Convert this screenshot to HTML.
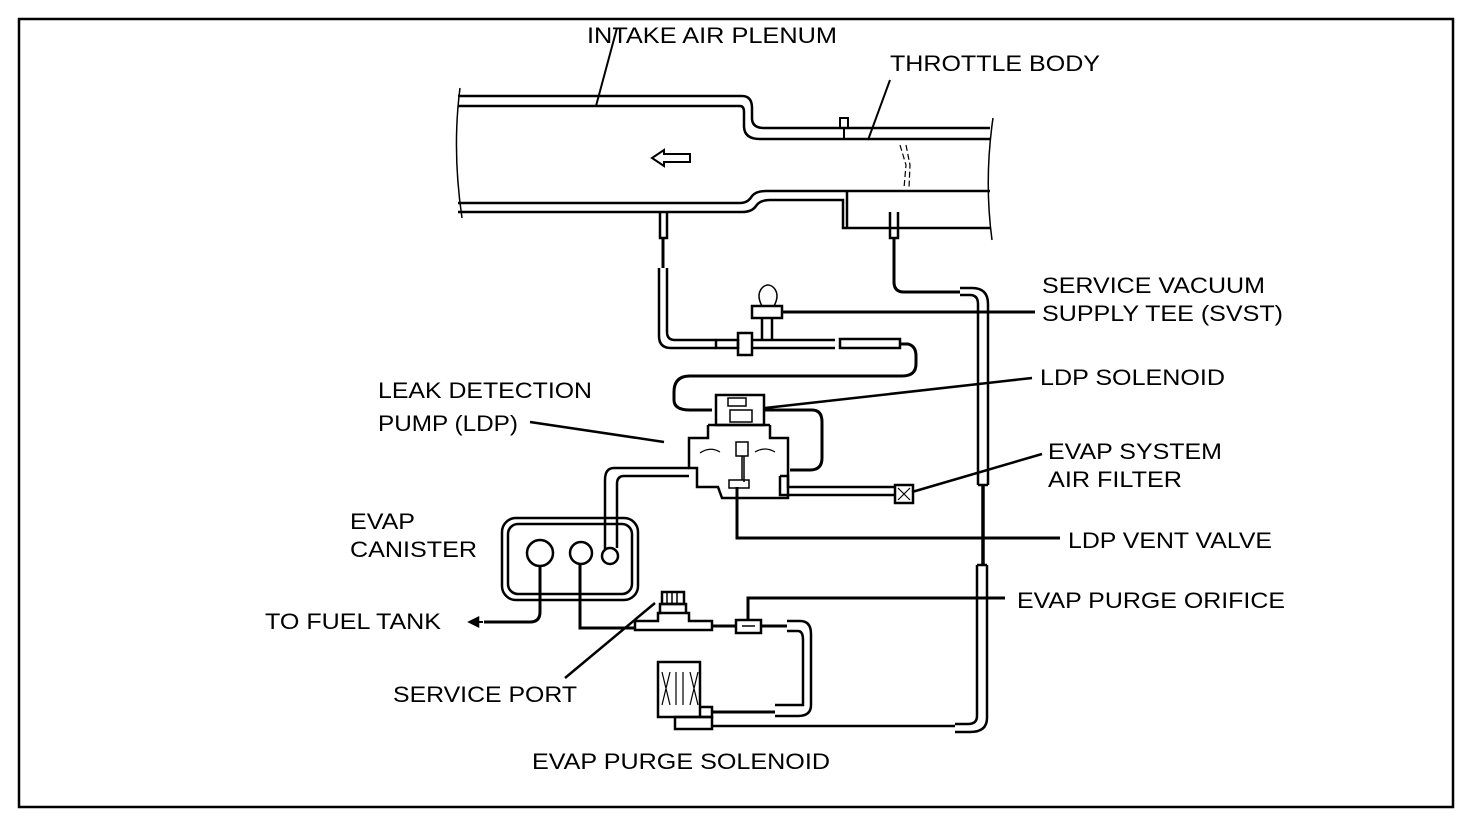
<!DOCTYPE html>
<html><head><meta charset="utf-8"><style>
html,body{margin:0;padding:0;background:#fff;}
svg{display:block;}
text{font-family:"Liberation Sans",Arial,sans-serif;font-size:22px;fill:#000;}
</style></head><body>
<svg width="1472" height="828" viewBox="0 0 1472 828" xmlns="http://www.w3.org/2000/svg">
<rect x="19" y="19" width="1434" height="788" fill="none" stroke="#000" stroke-width="2.5"/>
<g fill="none" stroke="#000" stroke-width="2.5">
<path d="M458 96 H742 Q752 96 752 108 V118 Q752 128 764 128 H990"/>
<path d="M458 106 H740 Q744 106 744 112 V126 Q744 139 760 139 H990"/>
<path d="M458 203 H740 Q748 203 752 196 Q756 191 766 191 H990"/>
<path d="M458 212 H742 Q752 212 756 206 Q760 200 770 200 H843 V228 H990"/>
<path d="M847 191 V228"/>
<path d="M460 88 Q452 150 462 218" stroke-width="1.5"/>
<path d="M993 118 Q984 180 992 240" stroke-width="1.5"/>
<path d="M840 128 V118 H848 V128 M844 128 V140" stroke-width="2"/>
<path d="M900 145 L906 165 L904 188 M906 145 L910 165 L909 188" stroke-width="1.2" stroke-dasharray="6 3"/>
<path d="M652 158 L664 150 V154 H690 V162 H664 V166 Z" stroke-width="2"/>
<path d="M660 212 V238 H667 V212"/>
<path d="M663 238 V268" stroke-width="3"/>
<path d="M659 268 V336 Q659 348 671 348 H716 M667 268 V332 Q667 340 675 340 H716"/>
<rect x="716" y="340" width="22" height="8"/>
<rect x="738" y="333" width="14" height="22"/>
<path d="M752 340 H835 M752 348 H835"/>
<rect x="752" y="306" width="30" height="12"/>
<path d="M762 318 V340 M772 318 V340"/>
<path d="M762 306 Q756 295 762 288 Q768 282 774 288 Q780 295 774 306" stroke-width="1.5"/>
<path d="M782 312 H1035" stroke-width="3"/>
<rect x="840" y="339" width="60" height="9"/>
<path d="M900 344 H908 Q916 346 916 356 V364 Q916 376 902 376 H690 Q674 376 674 392 V400 Q674 410 690 410 H712" stroke-width="3"/>
<path d="M890 212 V238 H898 V212"/>
<path d="M894 238 V282 Q894 292 904 292 H960" stroke-width="3"/>
<path d="M960 288 H972 Q988 288 988 304 V485 M960 295 H970 Q978 295 978 304 V485 M978 485 H988"/>
<path d="M983 485 V565" stroke-width="3.5"/>
<path d="M977 565 V716 Q977 724 968 724 H955 M987 565 V718 Q987 732 970 732 H955 M977 565 H987"/>
<rect x="716" y="395" width="48" height="30"/>
<path d="M708 425 H770 M708 425 V438 H689 V468 H697 V487 H718 L722 498 H788 V468 H788 V438 H770 V425" />
<rect x="728" y="398" width="18" height="8" stroke-width="1.5"/>
<rect x="730" y="410" width="22" height="12" stroke-width="1.5"/>
<rect x="736" y="442" width="12" height="14" stroke-width="1.5"/>
<path d="M742 456 V480 M744 456 V482" stroke-width="1.5"/>
<rect x="729" y="480" width="20" height="8" stroke-width="1.5"/>
<path d="M700 453 Q710 446 720 452 M755 452 Q765 446 775 452" stroke-width="1.2"/>
<path d="M764 410 H812 Q822 410 822 422 V458 Q822 470 810 470 H790" stroke-width="3"/>
<path d="M689 468 H614 Q605 468 605 480 V550 M689 476 H624 Q617 476 617 484 V548"/>
<path d="M780 476 H788 V487 H895 M788 495 H895 M780 476 V495 H788"/>
<rect x="895" y="485" width="18" height="18"/>
<path d="M898 488 L910 500 M910 488 L898 500" stroke-width="1.2"/>
<path d="M737 487 V538 H1060" stroke-width="3"/>
<rect x="502" y="518" width="136" height="82" rx="14"/>
<rect x="508" y="524" width="124" height="70" rx="10"/>
<circle cx="540" cy="553" r="13"/>
<circle cx="581" cy="553" r="11"/>
<circle cx="610" cy="556" r="8"/>
<path d="M540 566 V612 Q540 622 530 622 H484" stroke-width="3"/>
<path d="M483 622 L470 622" stroke-width="2"/>
<path d="M470 622 L478 618 L478 626 Z" fill="#000"/>
<path d="M580 564 V628 H635" stroke-width="3"/>
<path d="M635 621 H658 V613 H689 V621 H712 V630 H635 Z"/>
<path d="M658 613 H660 V604 H686 V613" />
<rect x="662" y="592" width="22" height="12"/>
<path d="M667 593 V603 M672 593 V603 M677 593 V603" stroke-width="1.5"/>
<path d="M712 626 H736" stroke-width="3"/>
<rect x="736" y="620" width="25" height="13"/>
<path d="M742 626 H755" stroke-width="1.5"/>
<path d="M761 626 H787" stroke-width="3"/>
<path d="M787 621 H800 Q811 621 811 634 V705 Q811 716 798 716 H775 M787 631 H798 Q803 631 803 640 V705 H775"/>
<rect x="658" y="662" width="42" height="55"/>
<path d="M662 672 L670 705 M670 672 L662 705 M690 672 L698 705 M698 672 L690 705 M676 672 V705 M683 672 V705" stroke-width="1.2"/>
<path d="M700 707 H712 V717 H700" />
<path d="M712 712 H775" stroke-width="3"/>
<rect x="675" y="717" width="37" height="12"/>
<path d="M712 726 H955"/>
<path d="M748 620 V598 H1005" stroke-width="3"/>
<path d="M617 28 L596 106" stroke-width="2"/>
<path d="M890 80 L868 140" stroke-width="2"/>
<path d="M530 422 L664 442" stroke-width="2.5"/>
<path d="M1032 378 L765 408" stroke-width="2.5"/>
<path d="M1042 454 L912 492" stroke-width="2.5"/>
<path d="M565 678 L655 603" stroke-width="2.5"/>
</g>
<g lengthAdjust="spacingAndGlyphs">
<text x="587" y="43" textLength="250" lengthAdjust="spacingAndGlyphs">INTAKE AIR PLENUM</text>
<text x="890" y="71" textLength="210" lengthAdjust="spacingAndGlyphs">THROTTLE BODY</text>
<text x="1042" y="293" textLength="223" lengthAdjust="spacingAndGlyphs">SERVICE VACUUM</text>
<text x="1042" y="321" textLength="241" lengthAdjust="spacingAndGlyphs">SUPPLY TEE (SVST)</text>
<text x="378" y="398" textLength="214" lengthAdjust="spacingAndGlyphs">LEAK DETECTION</text>
<text x="378" y="431" textLength="140" lengthAdjust="spacingAndGlyphs">PUMP (LDP)</text>
<text x="1040" y="385" textLength="185" lengthAdjust="spacingAndGlyphs">LDP SOLENOID</text>
<text x="1048" y="459" textLength="174" lengthAdjust="spacingAndGlyphs">EVAP SYSTEM</text>
<text x="1048" y="487" textLength="134" lengthAdjust="spacingAndGlyphs">AIR FILTER</text>
<text x="1068" y="548" textLength="204" lengthAdjust="spacingAndGlyphs">LDP VENT VALVE</text>
<text x="1017" y="608" textLength="268" lengthAdjust="spacingAndGlyphs">EVAP PURGE ORIFICE</text>
<text x="350" y="529" textLength="65" lengthAdjust="spacingAndGlyphs">EVAP</text>
<text x="350" y="557" textLength="127" lengthAdjust="spacingAndGlyphs">CANISTER</text>
<text x="265" y="629" textLength="176" lengthAdjust="spacingAndGlyphs">TO FUEL TANK</text>
<text x="393" y="702" textLength="184" lengthAdjust="spacingAndGlyphs">SERVICE PORT</text>
<text x="532" y="769" textLength="298" lengthAdjust="spacingAndGlyphs">EVAP PURGE SOLENOID</text>
</g>
</svg>
</body></html>
